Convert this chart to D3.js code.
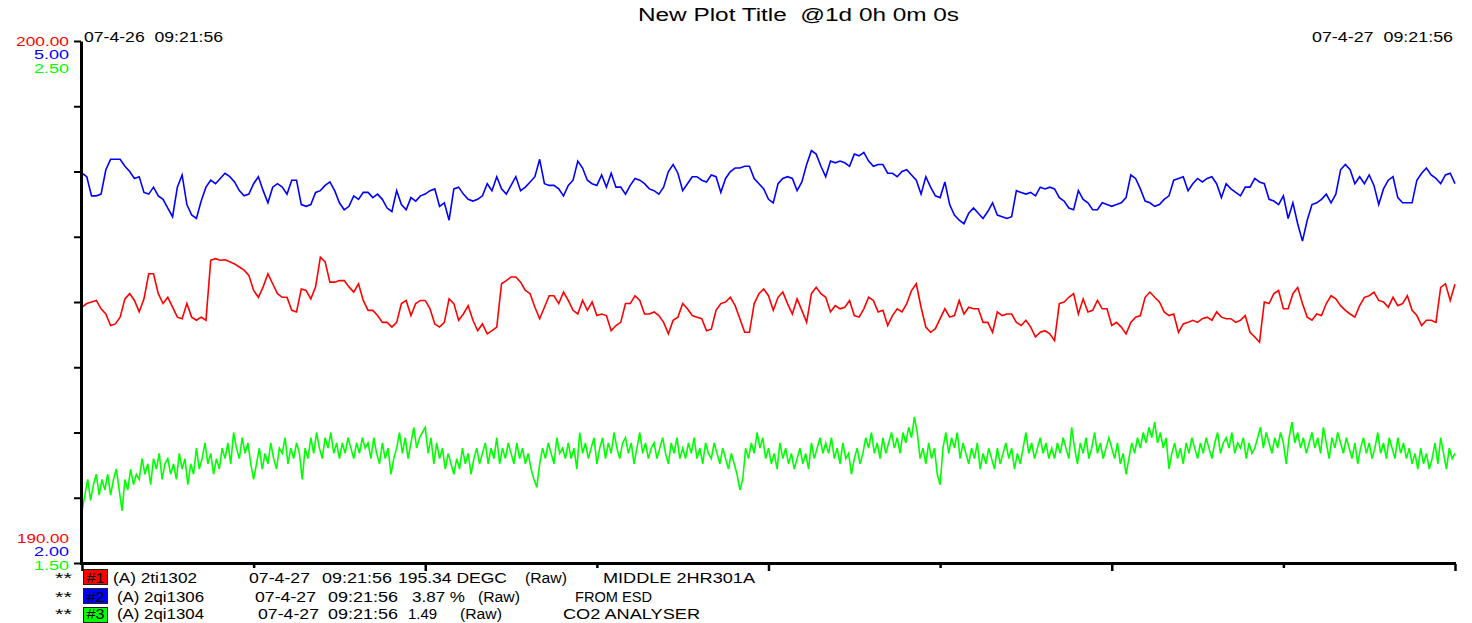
<!DOCTYPE html>
<html>
<head>
<meta charset="utf-8">
<script src="https://cdn.jsdelivr.net/npm/d3@7"></script>
<style>
  html, body { margin: 0; padding: 0; background: #ffffff; }
  svg { display: block; }
  text { font-family: "Liberation Sans", Arial, sans-serif; white-space: pre; }
</style>
</head>
<body>
<svg id="chart" width="1472" height="623"></svg>
<script>
// ---- time span of the trend window ----
const startTime = new Date(2007, 3, 26, 9, 21, 56);
const endTime   = new Date(2007, 3, 27, 9, 21, 56);

// ---- pen scales (min / max) ----
const redRange   = [190, 200];
const blueRange  = [2, 5];
const greenRange = [1.5, 2.5];
const redScaleLabels   = ["190.00", "200.00"];
const blueScaleLabels  = ["2.00", "5.00"];
const greenScaleLabels = ["1.50", "2.50"];

// ---- pen #1 : 2ti1302, DEGC, 5-minute samples ----
const redValues = [
  194.90,194.97,195.00,195.03,194.87,194.77,194.55,194.58,194.71,195.06,
  195.16,195.03,194.81,195.06,195.54,195.54,195.16,194.97,195.09,194.90,
  194.71,194.68,194.97,194.71,194.65,194.71,194.65,195.80,195.83,195.80,
  195.81,195.77,195.73,195.67,195.61,195.51,195.22,195.09,195.29,195.54,
  195.35,195.16,195.09,195.09,194.84,194.81,195.25,195.22,195.06,195.29,
  195.86,195.77,195.38,195.38,195.41,195.41,195.29,195.19,195.35,195.03,
  194.84,194.84,194.74,194.61,194.61,194.52,194.61,194.97,195.03,194.74,
  194.97,195.03,195.03,
  194.87,194.58,194.52,194.61,195.06,194.97,194.65,194.77,194.93,194.65,
  194.45,194.58,194.39,194.45,194.52,195.35,195.41,195.48,195.48,195.38,
  195.22,195.16,194.90,194.68,194.90,195.12,195.12,194.97,195.19,195.03,
  194.84,194.77,195.03,194.84,195.00,194.74,194.77,194.74,194.45,194.55,
  194.61,194.97,194.97,195.12,195.03,194.77,194.77,194.81,194.74,194.61,
  194.39,194.65,194.71,194.97,194.87,194.74,194.71,194.68,194.45,194.48,
  194.84,194.97,195.00,195.09,194.93,194.68,194.42,194.42,194.97,195.16,
  195.25,195.12,
  194.84,195.09,195.19,194.97,194.77,195.06,194.84,194.61,195.16,195.28,
  195.16,195.09,194.81,194.93,194.87,194.90,195.03,194.74,194.71,194.87,
  195.09,195.03,194.81,194.84,194.55,194.74,194.87,194.81,194.97,195.22,
  195.35,194.90,194.52,194.42,194.49,194.68,194.87,194.71,194.74,195.03,
  194.77,194.90,194.87,194.87,194.61,194.61,194.42,194.81,194.74,194.77,
  194.77,194.61,194.55,194.65,194.52,194.33,194.42,194.45,194.39,194.26,
  194.97,195.00,195.09,195.16,194.77,195.06,194.81,194.84,195.03,194.87,
  194.87,194.55,
  194.61,194.52,194.39,194.61,194.71,194.74,195.09,195.19,195.09,195.00,
  194.81,194.74,194.77,194.42,194.58,194.61,194.65,194.61,194.68,194.71,
  194.65,194.81,194.71,194.68,194.68,194.61,194.65,194.74,194.42,194.33,
  194.23,195.00,194.97,195.16,195.22,194.87,194.87,195.16,195.28,194.97,
  194.71,194.65,194.77,194.74,194.97,195.12,195.06,194.93,194.84,194.77,
  194.71,194.93,195.09,195.12,195.19,195.03,195.00,194.90,195.09,194.93,
  194.97,195.12,194.84,194.74,194.55,194.65,194.65,194.61,195.28,195.35,
  195.03,195.34
];

// ---- pen #2 : 2qi1306, %, 5-minute samples ----
const blueValues = [
  4.24,4.22,4.11,4.11,4.12,4.26,4.32,4.32,4.32,4.28,4.25,4.21,4.22,4.13,4.12,
  4.16,4.11,4.09,4.04,3.99,4.16,4.23,4.06,4.00,3.98,4.08,4.16,4.20,4.18,4.21,
  4.24,4.22,4.19,4.14,4.11,4.12,4.18,4.22,4.14,4.07,4.16,4.18,4.16,4.12,4.20,
  4.20,4.06,4.05,4.06,4.13,4.14,4.17,4.19,4.14,4.07,4.03,4.05,4.11,4.09,4.13,
  4.13,4.10,4.12,4.09,4.04,4.02,4.14,4.06,4.03,4.10,4.08,4.11,4.12,
  4.14,4.15,4.05,4.07,3.97,4.15,4.16,4.12,4.09,4.08,4.09,4.11,4.18,4.14,4.22,
  4.15,4.12,4.17,4.22,4.14,4.16,4.19,4.22,4.32,4.18,4.17,4.17,4.15,4.11,4.17,
  4.20,4.31,4.27,4.20,4.18,4.17,4.23,4.16,4.24,4.16,4.16,4.12,4.17,4.21,4.20,
  4.18,4.15,4.14,4.12,4.16,4.25,4.29,4.24,4.14,4.18,4.22,4.22,4.20,4.19,4.23,
  4.22,4.13,4.21,4.25,4.27,4.27,4.28,4.28,4.21,4.18,4.15,4.09,
  4.07,4.18,4.21,4.22,4.21,4.14,4.19,4.29,4.37,4.35,4.28,4.22,4.31,4.30,4.31,
  4.30,4.28,4.35,4.34,4.36,4.31,4.28,4.29,4.29,4.24,4.24,4.22,4.25,4.26,4.23,
  4.20,4.12,4.22,4.16,4.11,4.10,4.19,4.06,4.00,3.97,3.95,4.01,4.04,4.01,3.98,
  4.02,4.07,4.00,3.99,3.98,3.99,4.14,4.13,4.12,4.13,4.11,4.16,4.15,4.16,4.15,
  4.10,4.08,4.04,4.03,4.14,4.09,4.07,4.03,4.03,4.07,4.06,4.05,
  4.06,4.07,4.10,4.23,4.21,4.15,4.08,4.07,4.05,4.06,4.09,4.11,4.20,4.21,4.22,
  4.14,4.18,4.21,4.19,4.21,4.22,4.18,4.10,4.18,4.15,4.13,4.11,4.16,4.16,4.21,
  4.19,4.18,4.09,4.08,4.06,4.11,3.98,4.07,3.95,3.85,3.97,4.06,4.07,4.09,4.12,
  4.07,4.12,4.26,4.29,4.26,4.18,4.22,4.18,4.23,4.17,4.06,4.15,4.20,4.22,4.10,
  4.07,4.07,4.07,4.20,4.24,4.27,4.23,4.21,4.18,4.23,4.24,4.18
];

// ---- pen #3 : 2qi1304, CO2 analyser, 3-minute samples ----
const greenValues = [
  1.60,1.63,1.66,1.62,1.65,1.67,1.63,1.66,1.64,1.67,
  1.63,1.66,1.68,1.64,1.60,1.66,1.64,1.68,1.65,1.67,
  1.66,1.70,1.67,1.69,1.65,1.70,1.68,1.71,1.66,1.69,
  1.70,1.67,1.69,1.66,1.71,1.68,1.70,1.65,1.69,1.67,
  1.72,1.68,1.70,1.73,1.69,1.71,1.67,1.70,1.68,1.72,
  1.70,1.73,1.69,1.75,1.72,1.70,1.74,1.71,1.73,1.69,
  1.66,1.69,1.72,1.68,1.71,1.69,1.73,1.70,1.68,1.72,
  1.71,1.74,1.69,1.72,1.70,1.73,1.71,1.66,1.72,1.70,
  1.74,1.71,1.75,1.72,1.70,1.74,1.72,1.75,1.71,1.73,
  1.70,1.73,1.71,1.74,1.72,1.70,1.73,1.71,1.74,1.72,
  1.73,1.70,1.74,1.71,1.69,1.73,1.70,1.72,1.67,1.70,
  1.72,1.75,1.71,1.74,1.70,1.73,1.76,1.72,1.74,1.75,
  1.76,1.71,1.74,1.69,1.73,1.70,1.72,1.68,1.71,1.69,
  1.67,1.70,1.68,1.72,1.69,1.71,1.67,1.70,1.72,1.69,
  1.71,1.73,1.69,1.72,1.70,1.74,1.69,1.72,1.70,1.73,
  1.71,1.69,1.73,1.70,1.72,1.69,1.71,1.68,1.66,1.645,
  1.69,1.72,1.70,1.73,1.71,1.69,1.74,1.71,1.72,1.70,
  1.73,1.70,1.72,1.68,1.75,1.71,1.73,1.70,1.72,1.74,
  1.69,1.72,1.74,1.70,1.73,1.71,1.75,1.72,1.70,1.73,
  1.74,1.71,1.73,1.69,1.72,1.75,1.71,1.73,1.70,1.72,
  1.73,1.70,1.72,1.74,1.71,1.69,1.73,1.71,1.74,1.70,
  1.72,1.70,1.73,1.71,1.74,1.70,1.72,1.69,1.73,1.71,
  1.70,1.73,1.71,1.69,1.72,1.70,1.68,1.71,1.69,1.67,
  1.64,1.66,1.72,1.70,1.73,1.71,1.75,1.72,1.74,1.70,
  1.72,1.69,1.71,1.68,1.73,1.70,1.72,1.69,1.71,1.68,
  1.70,1.72,1.69,1.71,1.68,1.73,1.70,1.72,1.74,1.71,
  1.73,1.71,1.74,1.70,1.72,1.69,1.73,1.70,1.71,1.67,
  1.70,1.72,1.69,1.71,1.74,1.72,1.75,1.71,1.73,1.70,
  1.74,1.71,1.73,1.75,1.72,1.74,1.71,1.75,1.73,1.76,
  1.74,1.78,1.75,1.70,1.72,1.69,1.73,1.70,1.72,1.67,
  1.65,1.72,1.75,1.71,1.74,1.72,1.75,1.70,1.73,1.71,
  1.69,1.72,1.70,1.73,1.68,1.71,1.69,1.72,1.70,1.68,
  1.72,1.69,1.71,1.73,1.70,1.72,1.68,1.71,1.69,1.72,
  1.75,1.71,1.73,1.70,1.72,1.74,1.71,1.73,1.70,1.72,
  1.70,1.73,1.71,1.74,1.72,1.70,1.76,1.72,1.69,1.73,
  1.71,1.74,1.70,1.72,1.75,1.71,1.73,1.70,1.72,1.74,
  1.72,1.70,1.73,1.69,1.71,1.67,1.70,1.73,1.71,1.74,
  1.72,1.75,1.73,1.76,1.74,1.77,1.73,1.75,1.72,1.74,
  1.68,1.71,1.73,1.70,1.72,1.69,1.73,1.71,1.74,1.72,
  1.70,1.73,1.71,1.74,1.72,1.70,1.73,1.75,1.71,1.73,
  1.74,1.72,1.75,1.71,1.73,1.72,1.74,1.70,1.73,1.71,
  1.72,1.74,1.76,1.72,1.75,1.73,1.71,1.74,1.72,1.75,
  1.73,1.69,1.74,1.77,1.73,1.75,1.72,1.74,1.71,1.73,
  1.75,1.72,1.74,1.71,1.76,1.73,1.70,1.74,1.72,1.75,
  1.73,1.71,1.74,1.72,1.70,1.73,1.69,1.72,1.74,1.71,
  1.73,1.70,1.72,1.75,1.71,1.73,1.70,1.74,1.72,1.70,
  1.74,1.71,1.73,1.70,1.72,1.69,1.71,1.68,1.72,1.69,
  1.71,1.68,1.70,1.73,1.69,1.74,1.71,1.68,1.72,1.70,
  1.71
];

// ---- legend content ----
const penTags   = ["#1", "#2", "#3"];
const penNames  = ["(A) 2ti1302", "(A) 2qi1306", "(A) 2qi1304"];
const penDates  = ["07-4-27", "07-4-27", "07-4-27"];
const penTimes  = ["09:21:56", "09:21:56", "09:21:56"];
const penValues = ["195.34 DEGC", "3.87 %", "1.49"];
const penModes  = ["(Raw)", "(Raw)", "(Raw)"];
const penDescs  = ["MIDDLE 2HR301A", "FROM ESD", "CO2 ANALYSER"];
const titleText = "New Plot Title  @1d 0h 0m 0s";
const startLabel = "07-4-26  09:21:56";
const endLabel   = "07-4-27  09:21:56";

// ---- drawing ----
const penColors = ["#ff0000", "#0000ff", "#00ff00"];
const plot = { left: 82, right: 1455, top: 41, bottom: 563 };
const svg = d3.select("#chart");

const x = d3.scaleTime().domain([startTime, endTime]).range([plot.left, plot.right]);
const yRed   = d3.scaleLinear().domain(redRange).range([plot.bottom, plot.top]);
const yBlue  = d3.scaleLinear().domain(blueRange).range([plot.bottom, plot.top]);
const yGreen = d3.scaleLinear().domain(greenRange).range([plot.bottom, plot.top]);

// each pen is evenly sampled across the whole window
function sampleTime(i, n) {
  return new Date(+startTime + (endTime - startTime) * i / (n - 1));
}
function drawPen(values, yScale, color, width) {
  const n = values.length;
  const line = d3.line()
    .x((d, i) => x(sampleTime(i, n)))
    .y(d => yScale(d));
  svg.append("path")
    .datum(values)
    .attr("d", line)
    .attr("fill", "none")
    .attr("stroke", color)
    .attr("stroke-width", width)
    .attr("stroke-linejoin", "miter");
}
drawPen(greenValues, yGreen, penColors[2], 1.6);
drawPen(redValues,   yRed,   penColors[0], 1.6);
drawPen(blueValues,  yBlue,  penColors[1], 1.6);

// vertical axis with eight divisions
const yTicks = d3.range(0, 9).map(i => redRange[0] + (redRange[1] - redRange[0]) * i / 8);
const yAxisG = svg.append("g")
  .attr("transform", `translate(${plot.left - 1},0)`)
  .call(d3.axisLeft(yRed).tickValues(yTicks).tickSize(7).tickSizeOuter(0).tickFormat(() => ""));
yAxisG.select(".domain").attr("stroke", "#000").attr("stroke-width", 3);
yAxisG.selectAll(".tick line").attr("stroke", "#000").attr("stroke-width", 2);

// horizontal axis, a tick every three hours, longer on alternate ticks
const xTicks = d3.range(0, 9).map(i => new Date(+startTime + i * 3 * 3600 * 1000));
const xAxisG = svg.append("g")
  .attr("transform", `translate(0,${plot.bottom})`)
  .call(d3.axisBottom(x).tickValues(xTicks).tickSize(7).tickSizeOuter(0).tickFormat(() => ""));
xAxisG.select(".domain").attr("stroke", "#000").attr("stroke-width", 3)
  .attr("d", `M${plot.left - 2},0.5H${plot.right + 1}`);
xAxisG.selectAll(".tick line")
  .attr("stroke", "#000").attr("stroke-width", 2.5)
  .attr("y1", 1)
  .attr("y2", (d, i) => i % 2 === 0 ? 8 : 5);

// title and window time stamps
function label(str, xPos, yPos, opts = {}) {
  const t = svg.append("text")
    .attr("x", xPos).attr("y", yPos)
    .attr("font-size", opts.size || 14)
    .attr("fill", opts.color || "#000")
    .attr("text-anchor", opts.anchor || "start")
    .text(str);
  if (opts.width) t.attr("textLength", opts.width).attr("lengthAdjust", "spacingAndGlyphs");
  if (opts.weight) t.attr("font-weight", opts.weight);
  return t;
}
label(titleText, 638, 21, { size: 18, width: 321 });
label(startLabel, 84, 42, { size: 14, width: 139 });
label(endLabel, 1312, 42, { size: 14, width: 141 });

// pen scale limits, stacked beside the vertical axis
const scaleLabelX = 69;
const scaleSize = 12;
label(redScaleLabels[1],   scaleLabelX, 45.5,  { size: scaleSize, color: penColors[0], anchor: "end", width: 53 });
label(blueScaleLabels[1],  scaleLabelX, 59,    { size: scaleSize, color: penColors[1], anchor: "end", width: 35 });
label(greenScaleLabels[1], scaleLabelX, 72.5,  { size: scaleSize, color: penColors[2], anchor: "end", width: 35 });
label(redScaleLabels[0],   scaleLabelX, 542.5, { size: scaleSize, color: penColors[0], anchor: "end", width: 52 });
label(blueScaleLabels[0],  scaleLabelX, 556,   { size: scaleSize, color: penColors[1], anchor: "end", width: 35 });
label(greenScaleLabels[0], scaleLabelX, 569.5, { size: scaleSize, color: penColors[2], anchor: "end", width: 35 });

// pen legend rows
const rowBase  = [583, 602, 619];
const rowBoxY  = [569, 588, 607];
const colName  = [113, 117, 117];
const nameW    = [84, 87, 87];
const colDate  = [249, 255, 258];
const colTime  = [322, 328, 328];
const colValue = [398, 412, 408];
const valueW   = [109, 53, 29];
const colMode  = [525, 478, 460];
const colDesc  = [603, 575, 563];
const descW    = [152, 77, 137];

penTags.forEach((tag, i) => {
  const yb = rowBase[i];
  label("**", 55, yb, { size: 14, width: 17 });
  svg.append("rect")
    .attr("x", 83.5).attr("y", rowBoxY[i] + 0.5)
    .attr("width", 24).attr("height", 15)
    .attr("fill", penColors[i])
    .attr("stroke", "#202020").attr("stroke-width", 1);
  label(tag, 95.5, yb, { size: 14, anchor: "middle", width: 18 });
  label(penNames[i], colName[i], yb, { width: nameW[i] });
  label(penDates[i], colDate[i], yb, { width: 61 });
  label(penTimes[i], colTime[i], yb, { width: 70 });
  label(penValues[i], colValue[i], yb, { width: valueW[i] });
  label(penModes[i], colMode[i], yb, { width: 42 });
  label(penDescs[i], colDesc[i], yb, { width: descW[i] });
});
</script>
</body>
</html>
